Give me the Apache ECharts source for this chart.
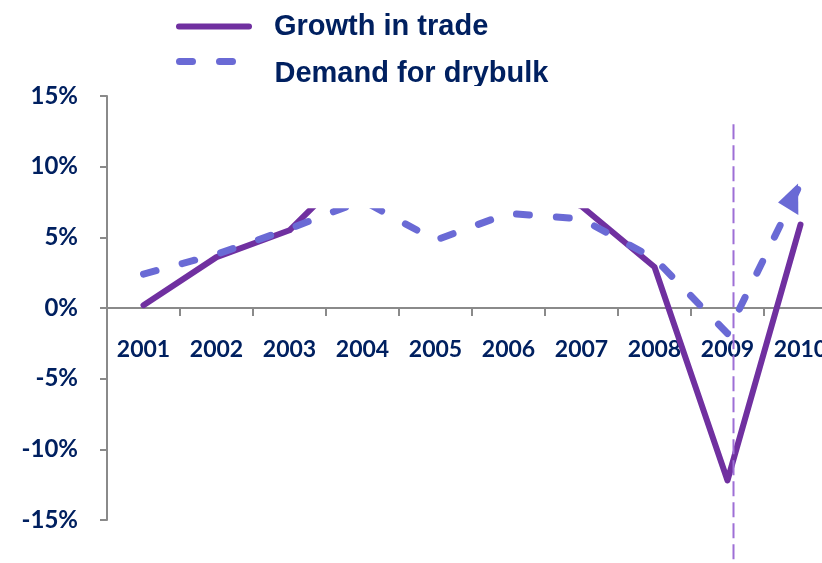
<!DOCTYPE html>
<html>
<head>
<meta charset="utf-8">
<script src="https://cdn.jsdelivr.net/npm/echarts@6/dist/echarts.min.js"></script>
<style>
  html, body { margin: 0; padding: 0; background: #fff; overflow: hidden; }
</style>
</head>
<body>
<div id="chart" style="width: 822px; height: 563px"></div>
<script>
// 年份（x轴）
const categories = ["2001", "2002", "2003", "2004", "2005", "2006", "2007", "2008", "2009", "2010"];
// 贸易增长 (%)，2004-2006 在原图被遮住，为估计值
const growthInTrade = [0.2, 3.6, 5.5, 10.6, 10.0, 9.0, 7.2, 2.9, -12.2, 5.9];
// 干散货需求 (%)
const demandForDrybulk = [2.4, 3.8, 5.6, 7.6, 4.8, 6.7, 6.3, 3.5, -1.8, 8.8];
// y轴刻度
const yMin = -15;
const yMax = 15;
const yStep = 5;

const navy = "#002060";
const axisGray = "#8a8a8a";
const tickFont = "Lato, 'Noto Sans', sans-serif";
const legendFont = "'Liberation Sans', Arial, sans-serif";

// 箭头（朝右上方的三角形）
const arrowPath = "path://M24.85,0L25.18,31.31L0,19.05Z";

const chart = echarts.init(document.getElementById("chart"));

const legendText = (padTop) => ({
  color: navy,
  fontSize: 29,
  fontWeight: "bold",
  fontFamily: legendFont,
  rich: {
    t: {
      color: navy,
      fontSize: 29,
      fontWeight: "bold",
      fontFamily: legendFont,
      padding: [padTop, 0, 0, 20]
    }
  }
});

const option = {
  animation: false,
  grid: {
    left: 107,
    top: 96,
    bottom: 43,
    right: -15,
    outerBoundsMode: "none",
    containLabel: false
  },
  legend: [
    {
      data: ["Growth in trade"],
      left: 176,
      top: 12,
      padding: 0,
      itemWidth: 70,
      itemHeight: 14,
      formatter: "{t|{name}}",
      itemStyle: { opacity: 0 },
      lineStyle: { width: 6 },
      textStyle: legendText(0)
    },
    {
      data: ["Demand for drybulk"],
      left: 176,
      top: 56,
      padding: 0,
      itemWidth: 70,
      itemHeight: 14,
      formatter: "{t|{name}}",
      itemStyle: { opacity: 0 },
      lineStyle: { width: 7 },
      textStyle: legendText(24)
    }
  ],
  xAxis: {
    type: "category",
    data: categories,
    axisLine: { onZero: false, lineStyle: { color: axisGray, width: 2 } },
    axisTick: { show: true, length: 8, lineStyle: { color: axisGray, width: 2 } },
    axisLabel: {
      interval: 0,
      margin: 30,
      color: navy,
      fontSize: 23,
      fontWeight: "bold",
      fontFamily: tickFont
    }
  },
  yAxis: {
    type: "value",
    min: yMin,
    max: yMax,
    interval: yStep,
    splitLine: { show: false },
    axisLine: { show: true, lineStyle: { color: axisGray, width: 2 } },
    axisTick: { show: true, length: 7, lineStyle: { color: axisGray, width: 2 } },
    axisLabel: {
      margin: 29,
      formatter: "{value}%",
      color: navy,
      fontSize: 24,
      fontWeight: "bold",
      fontFamily: tickFont
    }
  },
  series: [
    {
      name: "Growth in trade",
      type: "line",
      data: growthInTrade,
      symbol: "none",
      z: 3,
      lineStyle: { color: "#7030A0", width: 6, cap: "round", join: "round" },
      itemStyle: { color: "#7030A0" }
    },
    {
      name: "Demand for drybulk",
      type: "line",
      data: demandForDrybulk,
      symbol: "none",
      z: 4,
      lineStyle: { color: "#6A6AD5", width: 7, type: [13, 27], cap: "round", join: "round" },
      itemStyle: { color: "#6A6AD5" },
      // 末端箭头，尖端落在 2010 的数据点上
      markPoint: {
        symbol: arrowPath,
        symbolSize: [25.2, 31.3],
        symbolKeepAspect: true,
        symbolOffset: [-12.3, 15.6],
        label: { show: false },
        itemStyle: { color: "#6A6AD5" },
        data: [{ coord: ["2010", demandForDrybulk[9]] }]
      }
    }
  ]
};
chart.setOption(option);

const toX = (c) => chart.convertToPixel({ xAxisIndex: 0 }, c);
const toY = (v) => chart.convertToPixel({ yAxisIndex: 0 }, v);

// x轴移到 0% 处（标签跟随）
chart.setOption({ xAxis: { offset: toY(0) - toY(yMin) } });

// 原图上方被白色遮挡的区域，以及 2009 处的虚线
const coverLeft = toX("2003");
const coverRight = toX("2008");
const coverTop = toY(yMax) - 10;
const coverBottom = toY(7.05);
const markX = toX("2009") + 6;

chart.setOption({
  graphic: [
    {
      type: "rect",
      z: 100,
      silent: true,
      shape: { x: coverLeft, y: coverTop, width: coverRight - coverLeft, height: coverBottom - coverTop },
      style: { fill: "#ffffff" }
    },
    {
      type: "line",
      z: 101,
      silent: true,
      shape: { x1: markX, y1: toY(13), x2: markX, y2: toY(-18.5) },
      style: { stroke: "#9E6FD6", lineWidth: 2, lineDash: [15, 6] }
    }
  ]
});
</script>
</body>
</html>
